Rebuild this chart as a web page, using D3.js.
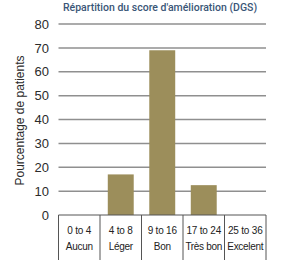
<!DOCTYPE html>
<html>
<head>
<meta charset="utf-8">
<script src="https://cdn.jsdelivr.net/npm/d3@7"></script>
<style>
  body { margin: 0; background: #fff; }
  svg { display: block; }
</style>
</head>
<body>
<svg id="chart"></svg>
<script>
// data
const ranges = ["0 to 4", "4 to 8", "9 to 16", "17 to 24", "25 to 36"];
const grades = ["Aucun", "Léger", "Bon", "Très bon", "Excelent"];
const values = [0, 17, 69, 12.5, 0];
const yTicks = [0, 10, 20, 30, 40, 50, 60, 70, 80];
const title = "Répartition du score d'amélioration (DGS)";
const yLabel = "Pourcentage de patients";

const width = 300, height = 266;
const plotLeft = 58.5, plotRight = 266, plotTop = 24, plotBottom = 215;

const svg = d3.select("#chart")
  .attr("width", width)
  .attr("height", height);

const x = d3.scaleBand()
  .domain(ranges)
  .range([plotLeft, plotRight])
  .paddingInner(0.375)
  .paddingOuter(0.1875);

const xCol = d3.scaleBand()
  .domain(ranges)
  .range([plotLeft, plotRight]);

const y = d3.scaleLinear()
  .domain([0, 80])
  .range([plotBottom, plotTop]);

// title
svg.append("text")
  .attr("x", 160)
  .attr("y", 11)
  .attr("text-anchor", "middle")
  .attr("font-family", "Roboto, sans-serif")
  .attr("font-weight", 500)
  .attr("font-size", "10.5px")
  .attr("fill", "#3a5677")
  .text(title);

// gridlines
svg.append("g")
  .selectAll("line")
  .data(yTicks.filter(d => d > 0))
  .join("line")
  .attr("x1", plotLeft)
  .attr("x2", plotRight)
  .attr("y1", d => y(d))
  .attr("y2", d => y(d))
  .attr("stroke", "#8f8f8f")
  .attr("stroke-width", 1.5);

// y tick labels
svg.append("g")
  .selectAll("text")
  .data(yTicks)
  .join("text")
  .attr("x", 49)
  .attr("y", d => y(d))
  .attr("dy", "0.36em")
  .attr("text-anchor", "end")
  .attr("font-family", "Liberation Sans, Arial, sans-serif")
  .attr("font-size", "13px")
  .attr("fill", "#2b2b2b")
  .text(d => d);

// y axis title
svg.append("text")
  .attr("transform", `translate(24,${(plotTop + plotBottom) / 2 + 1}) rotate(-90)`)
  .attr("text-anchor", "middle")
  .attr("font-family", "Liberation Sans, Arial, sans-serif")
  .attr("font-size", "12px")
  .attr("fill", "#2b2b2b")
  .text(yLabel);

// bars
svg.append("g")
  .selectAll("rect")
  .data(values)
  .join("rect")
  .attr("x", (d, i) => x(ranges[i]))
  .attr("width", x.bandwidth())
  .attr("y", d => y(d))
  .attr("height", d => y(0) - y(d))
  .attr("fill", "#9c8e5b");

// table under the chart
const table = svg.append("g");

table.append("line")
  .attr("x1", plotLeft)
  .attr("x2", plotRight)
  .attr("y1", y(0))
  .attr("y2", y(0))
  .attr("stroke", "#555")
  .attr("stroke-width", 1);

const edges = ranges.map(r => xCol(r)).concat([plotRight]);
table.selectAll("line.div")
  .data(edges)
  .join("line")
  .attr("class", "div")
  .attr("x1", d => d)
  .attr("x2", d => d)
  .attr("y1", y(0))
  .attr("y2", 260)
  .attr("stroke", "#555")
  .attr("stroke-width", 1);

table.selectAll("text.range")
  .data(ranges)
  .join("text")
  .attr("class", "range")
  .attr("x", d => xCol(d) + xCol.bandwidth() / 2)
  .attr("y", 233.8)
  .attr("text-anchor", "middle")
  .attr("font-family", "Liberation Sans, Arial, sans-serif")
  .attr("font-size", "10px")
  .attr("letter-spacing", "-0.2px")
  .attr("fill", "#222")
  .text(d => d);

table.selectAll("text.grade")
  .data(grades)
  .join("text")
  .attr("class", "grade")
  .attr("x", (d, i) => xCol(ranges[i]) + xCol.bandwidth() / 2)
  .attr("y", 249.5)
  .attr("text-anchor", "middle")
  .attr("font-family", "Liberation Sans, Arial, sans-serif")
  .attr("font-size", "10px")
  .attr("letter-spacing", "-0.3px")
  .attr("fill", "#222")
  .text(d => d);
</script>
</body>
</html>
